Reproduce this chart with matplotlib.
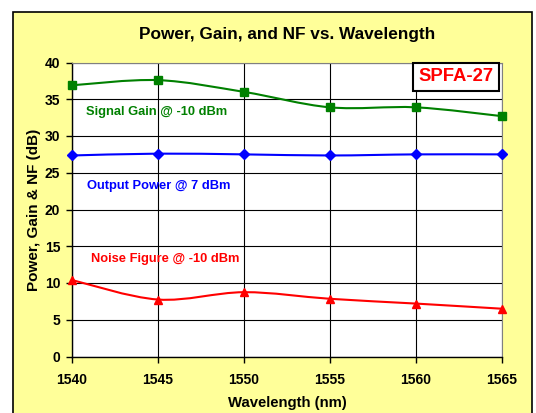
import matplotlib
matplotlib.use("Agg")
import matplotlib.pyplot as plt
import numpy as np
from matplotlib.path import Path
from matplotlib.patches import PathPatch, Rectangle

plt.rcParams["font.family"] = ["Liberation Sans", "DejaVu Sans"]

wavelength = [1540, 1545, 1550, 1555, 1560, 1565]
signal_gain = [36.9, 37.6, 36.0, 33.9, 33.9, 32.7]
output_power = [27.35, 27.6, 27.5, 27.35, 27.5, 27.5]
noise_figure = [10.4, 7.75, 8.75, 7.85, 7.2, 6.5]


def smooth_path(xs, ys):
    # catmull-rom through the points, drawn as cubic bezier (Excel-like smoothing)
    pts = np.column_stack([xs, ys]).astype(float)
    n = len(pts)
    verts = [pts[0]]
    codes = [Path.MOVETO]
    for i in range(n - 1):
        p0 = pts[i - 1] if i > 0 else pts[i]
        p1 = pts[i]
        p2 = pts[i + 1]
        p3 = pts[i + 2] if i + 2 < n else pts[i + 1]
        c1 = p1 + (p2 - p0) / 6.0
        c2 = p2 - (p3 - p1) / 6.0
        verts += [c1, c2, p2]
        codes += [Path.CURVE4] * 3
    return Path(verts, codes)


fig = plt.figure(figsize=(5.36, 4.13), dpi=100)
fig.patch.set_facecolor("white")
fig.patches.append(Rectangle((13 / 536, -0.05), 519 / 536, 1.05 - 12 / 413,
                             transform=fig.transFigure, facecolor="#FFFF99",
                             edgecolor="black", linewidth=1.2, zorder=-10))

ax = fig.add_axes([72 / 536, 56.5 / 413, 430 / 536, 294 / 413])
ax.set_facecolor("white")

series = [
    (signal_gain, "#008000", "s", 5.5),
    (output_power, "#0000FF", "D", 5),
    (noise_figure, "#FF0000", "^", 6),
]
for ys, col, mk, ms in series:
    ax.add_patch(PathPatch(smooth_path(wavelength, ys), facecolor="none",
                           edgecolor=col, linewidth=1.5, zorder=3))
    ax.plot(wavelength, ys, linestyle="none", marker=mk, color=col,
            markersize=ms, zorder=4, clip_on=False)

ax.set_xlim(1540, 1565)
ax.set_ylim(0, 40)
ax.set_xticks(wavelength)
ax.set_yticks(range(0, 41, 5))
ax.grid(True, color="black", linewidth=0.8)
ax.set_axisbelow(True)
for s in ["top", "right"]:
    ax.spines[s].set_color("#808080")
for s in ["left", "bottom"]:
    ax.spines[s].set_color("black")
    ax.spines[s].set_linewidth(1.0)
ax.tick_params(direction="out", length=4, width=1, labelsize=10)
ax.tick_params(axis="y", pad=4.5)
ax.tick_params(axis="x", pad=8)
for lab in ax.get_xticklabels() + ax.get_yticklabels():
    lab.set_fontweight("bold")

ax.set_xlabel("Wavelength (nm)", fontsize=10.7, fontweight="bold", labelpad=6)
ax.set_ylabel("Power, Gain & NF (dB)", fontsize=11, fontweight="bold", labelpad=3)
fig.text(0.535, 1 - 35 / 413, "Power, Gain, and NF vs. Wavelength", ha="center",
         va="center", fontsize=12.4, fontweight="bold")

ax.text(1540.8, 33.3, "Signal Gain @ -10 dBm", color="#008000", fontsize=9.3,
        fontweight="bold", va="center")
ax.text(1540.85, 23.2, "Output Power @ 7 dBm", color="#0000FF", fontsize=9.3,
        fontweight="bold", va="center")
ax.text(1541.1, 13.2, "Noise Figure @ -10 dBm", color="#FF0000", fontsize=9.3,
        fontweight="bold", va="center")

ax.text(0.981, 0.98, "SPFA-27", transform=ax.transAxes, ha="right", va="top",
        color="#FF0000", fontsize=13.3, fontweight="bold", zorder=6,
        bbox=dict(boxstyle="square,pad=0.3", facecolor="white",
                  edgecolor="black", linewidth=1.5))

fig.savefig("out.png", dpi=100)
